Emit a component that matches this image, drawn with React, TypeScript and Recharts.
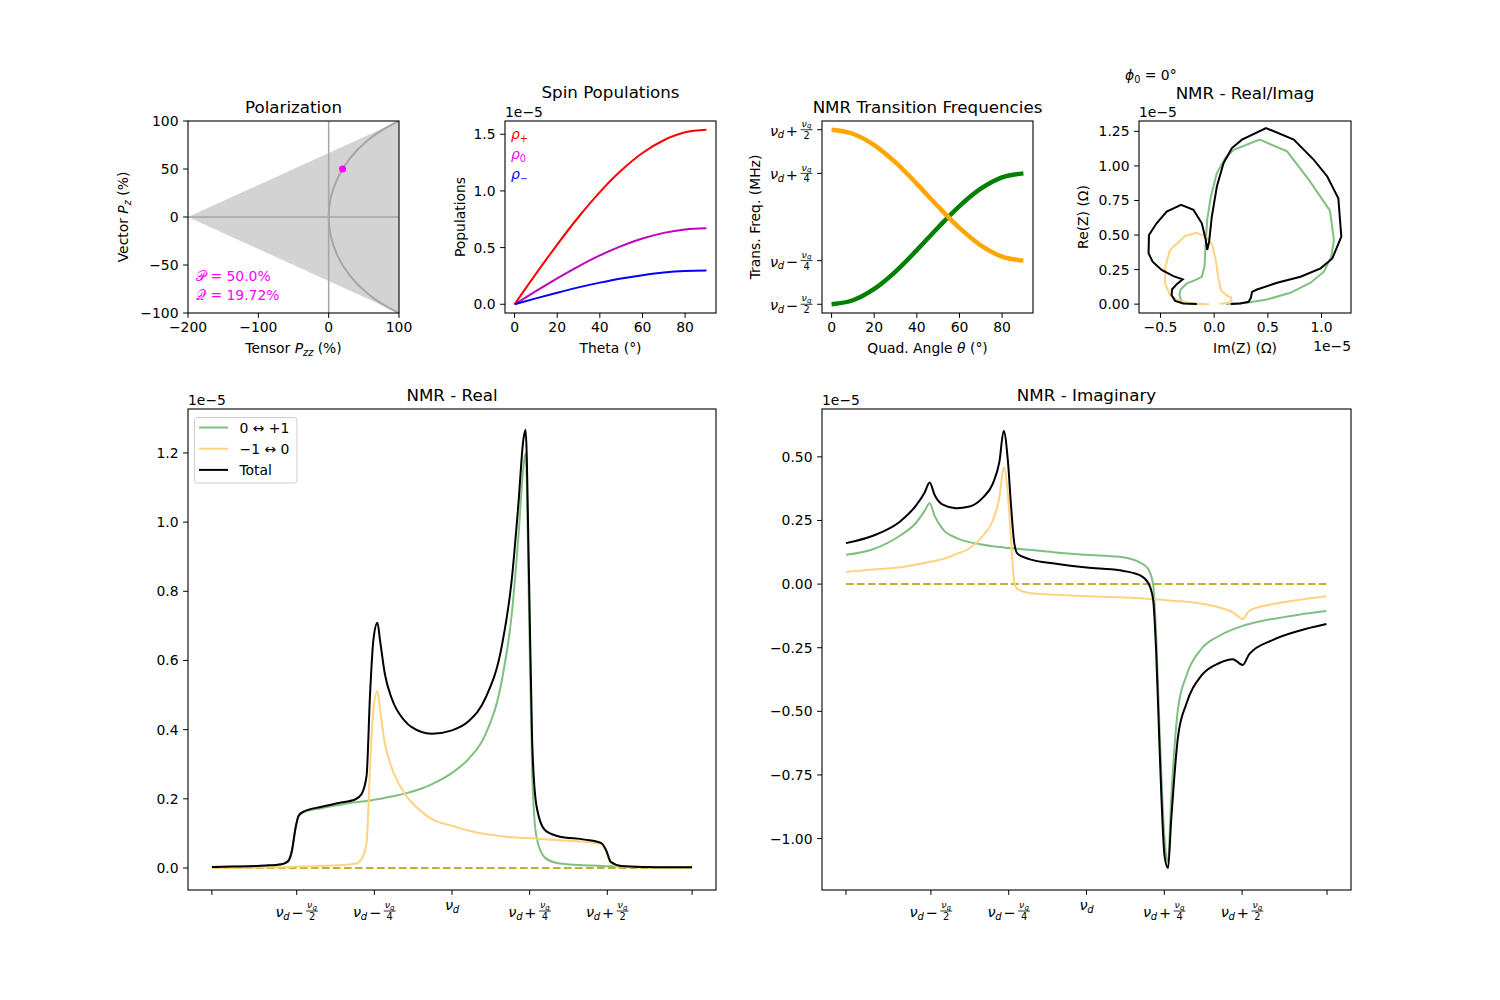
import React from "react";
import {
  ComposedChart,
  LineChart,
  Line,
  Area,
  XAxis,
  YAxis,
  ReferenceLine,
  ReferenceDot,
  Legend,
} from "recharts";

const FONT = "'DejaVu Sans', sans-serif";

// ---------- Polarization (percent)
const bandPzz = [-200, 100];
const bandLow = [0, -100];
const bandHigh = [0, 100];
const curvePz = [-100, -95, -90, -85, -80, -70, -60, -50, -40, -30, -20, -10, 0, 10, 20, 30, 40, 50, 60, 70, 80, 85, 90, 95, 100];
const curvePzz = [100, 86.3, 74.7, 64.6, 55.8, 40.9, 29.1, 19.7, 12.4, 6.9, 3.0, 0.75, 0, 0.75, 3.0, 6.9, 12.4, 19.7, 29.1, 40.9, 55.8, 64.6, 74.7, 86.3, 100];
const polPz = 50.0;
const polPzz = 19.72;

// ---------- Spin populations (x 1e-5)
const theta = [0, 10, 20, 30, 40, 50, 60, 70, 80, 90];
const rhoPlus = [0, 0.268, 0.527, 0.77, 0.99, 1.18, 1.335, 1.447, 1.517, 1.54];
const rhoZero = [0, 0.116, 0.229, 0.335, 0.431, 0.513, 0.58, 0.63, 0.66, 0.67];
const rhoMinus = [0, 0.052, 0.102, 0.149, 0.191, 0.228, 0.257, 0.28, 0.293, 0.297];

// ---------- Transition frequencies (offset from nu_d, units of nu_q)
const quadAngle = [0, 10, 20, 30, 40, 50, 60, 70, 80, 90];
const freqUpper = [-0.5, -0.477, -0.412, -0.3125, -0.19, -0.06, 0.0625, 0.162, 0.227, 0.25];
const freqLower = [0.5, 0.477, 0.412, 0.3125, 0.19, 0.06, -0.0625, -0.162, -0.227, -0.25];

// ---------- NMR real part (x 1e-5) vs frequency offset (units of nu_q)
const freqRe = [-0.773, -0.7, -0.6, -0.55, -0.536, -0.526, -0.515, -0.504, -0.494, -0.478, -0.42, -0.365, -0.312, -0.291, -0.275, -0.264, -0.253, -0.24, -0.232, -0.216, -0.194, -0.152, -0.098, -0.066, 0, 0.053, 0.107, 0.16, 0.192, 0.214, 0.23, 0.237, 0.248, 0.258, 0.272, 0.299, 0.342, 0.427, 0.481, 0.497, 0.511, 0.545, 0.62, 0.7, 0.773];
const greenRe = [0.003, 0.004, 0.006, 0.01, 0.014, 0.02, 0.05, 0.113, 0.149, 0.161, 0.173, 0.182, 0.19, 0.192, 0.194, 0.195, 0.197, 0.199, 0.2, 0.203, 0.207, 0.215, 0.23, 0.242, 0.275, 0.315, 0.385, 0.54, 0.73, 0.96, 1.16, 1.2, 0.75, 0.28, 0.09, 0.03, 0.014, 0.008, 0.006, 0.005, 0.005, 0.004, 0.003, 0.002, 0.002];
const orangeRe = [0.001, 0.001, 0.002, 0.002, 0.003, 0.003, 0.003, 0.004, 0.004, 0.004, 0.006, 0.008, 0.012, 0.026, 0.074, 0.29, 0.46, 0.512, 0.46, 0.36, 0.29, 0.215, 0.163, 0.142, 0.122, 0.108, 0.098, 0.092, 0.089, 0.088, 0.087, 0.087, 0.086, 0.086, 0.085, 0.083, 0.08, 0.076, 0.069, 0.045, 0.014, 0.004, 0.002, 0.001, 0.001];
const totalRe = [0.003, 0.004, 0.007, 0.011, 0.015, 0.022, 0.052, 0.115, 0.151, 0.163, 0.177, 0.188, 0.198, 0.214, 0.267, 0.5, 0.66, 0.709, 0.66, 0.56, 0.49, 0.425, 0.393, 0.388, 0.398, 0.424, 0.49, 0.64, 0.83, 1.055, 1.24, 1.267, 0.84, 0.37, 0.18, 0.11, 0.092, 0.082, 0.072, 0.05, 0.018, 0.006, 0.003, 0.002, 0.002];

// ---------- NMR imaginary part (x 1e-5)
const freqIm = [-0.773, -0.686, -0.6, -0.547, -0.52, -0.504, -0.488, -0.462, -0.419, -0.376, -0.333, -0.301, -0.28, -0.266, -0.253, -0.242, -0.232, -0.221, -0.184, -0.098, 0, 0.107, 0.171, 0.198, 0.214, 0.224, 0.235, 0.251, 0.262, 0.272, 0.294, 0.321, 0.369, 0.427, 0.47, 0.502, 0.523, 0.598, 0.684, 0.771];
const greenIm = [0.115, 0.137, 0.19, 0.242, 0.288, 0.318, 0.268, 0.216, 0.182, 0.165, 0.155, 0.149, 0.146, 0.144, 0.142, 0.141, 0.14, 0.139, 0.135, 0.124, 0.115, 0.107, 0.085, 0.06, 0.0, -0.2, -0.58, -1.0, -1.09, -0.85, -0.49, -0.36, -0.255, -0.203, -0.178, -0.164, -0.157, -0.137, -0.12, -0.106];
const orangeIm = [0.048, 0.057, 0.066, 0.077, 0.083, 0.087, 0.091, 0.098, 0.118, 0.14, 0.19, 0.25, 0.34, 0.458, 0.36, 0.164, 0.007, -0.02, -0.035, -0.042, -0.048, -0.052, -0.056, -0.058, -0.059, -0.06, -0.061, -0.063, -0.064, -0.065, -0.067, -0.069, -0.077, -0.092, -0.111, -0.137, -0.105, -0.079, -0.062, -0.048];
const totalIm = [0.161, 0.19, 0.245, 0.31, 0.36, 0.399, 0.35, 0.312, 0.298, 0.305, 0.34, 0.395, 0.48, 0.602, 0.49, 0.3, 0.16, 0.118, 0.098, 0.08, 0.065, 0.054, 0.035, 0.005, -0.06, -0.27, -0.65, -1.07, -1.116, -0.93, -0.6, -0.47, -0.36, -0.31, -0.295, -0.318, -0.275, -0.22, -0.183, -0.157];

// ---------- Real vs Imag (x 1e-5), traced in frequency order
const imGreen = [-0.115, -0.24, -0.308, -0.324, -0.312, -0.255, -0.178, -0.115, -0.09, -0.081, -0.065, -0.031, 0.025, 0.103, 0.181, 0.424, 0.679, 0.882, 1.078, 1.115, 1.09, 1.022, 0.897, 0.71, 0.492, 0.305, 0.109];
const reGreen = [0.002, 0.005, 0.024, 0.07, 0.106, 0.15, 0.174, 0.198, 0.271, 0.416, 0.609, 0.779, 0.948, 1.057, 1.117, 1.19, 1.105, 0.899, 0.677, 0.464, 0.343, 0.235, 0.155, 0.082, 0.034, 0.01, 0.002];
const imOrange = [-0.047, -0.131, -0.24, -0.333, -0.411, -0.458, -0.455, -0.411, -0.271, -0.162, -0.075, -0.019, 0.012, 0.037, 0.062, 0.112, 0.156, 0.162, 0.134, 0.05];
const reOrange = [0.0, 0.002, 0.007, 0.024, 0.065, 0.15, 0.271, 0.392, 0.493, 0.517, 0.488, 0.428, 0.331, 0.198, 0.102, 0.065, 0.048, 0.024, 0.01, 0.002];
const imTotal = [-0.162, -0.287, -0.364, -0.396, -0.393, -0.349, -0.293, -0.38, -0.489, -0.573, -0.611, -0.607, -0.536, -0.442, -0.308, -0.193, -0.115, -0.078, -0.065, -0.047, -0.022, 0.025, 0.087, 0.165, 0.259, 0.483, 0.741, 0.928, 1.053, 1.156, 1.184, 1.1, 0.991, 0.804, 0.586, 0.399, 0.352, 0.343, 0.321, 0.243, 0.156];
const reTotal = [0.002, 0.005, 0.024, 0.065, 0.106, 0.145, 0.179, 0.203, 0.247, 0.307, 0.368, 0.5, 0.585, 0.67, 0.718, 0.682, 0.585, 0.464, 0.392, 0.452, 0.633, 0.851, 1.02, 1.129, 1.19, 1.274, 1.19, 1.044, 0.924, 0.766, 0.488, 0.331, 0.259, 0.198, 0.155, 0.106, 0.089, 0.048, 0.017, 0.005, 0.002];

// ---------- tick labels
const nuTicks = [-0.773, -0.5, -0.25, 0, 0.25, 0.5, 0.773];
const nuTickKind = ["", "frac", "frac", "nu", "frac", "frac", ""];
const nuTickOp = ["", "\u2212", "\u2212", "", "+", "+", ""];
const nuTickDen = ["", "2", "4", "", "4", "2", ""];
const trTicks = [-0.5, -0.25, 0.25, 0.5];
const trTickOp = ["\u2212", "\u2212", "+", "+"];
const trTickDen = ["2", "4", "4", "2"];
const seriesNames = ["0 ↔ +1", "\u22121 ↔ 0", "Total"];

const GREEN_A = "#80bf80";
const ORANGE_A = "#ffd280";
const OLIVE = "#bfb035";

type Box = { x0: number; y0: number; x1: number; y1: number };
const BOX_POL: Box = { x0: 188, y0: 121, x1: 399, y1: 313 };
const BOX_POP: Box = { x0: 505, y0: 121, x1: 716, y1: 313 };
const BOX_TRN: Box = { x0: 822, y0: 121, x1: 1033, y1: 313 };
const BOX_RI: Box = { x0: 1139, y0: 121, x1: 1351, y1: 313 };
const BOX_RE: Box = { x0: 188, y0: 409, x1: 716, y1: 890 };
const BOX_IM: Box = { x0: 822, y0: 409, x1: 1351, y1: 890 };

const YW = 70;
const MT = 15;
const MR = 30;
const XH = 40;
const MARGIN = { top: MT, right: MR, bottom: 0, left: 0 };
const cw = (b: Box) => b.x1 - b.x0 + YW + MR;
const ch = (b: Box) => b.y1 - b.y0 + MT + XH;

const TICK = { fontSize: 13.9, fill: "#000", fontFamily: FONT };
const axisBase = {
  type: "number" as const,
  allowDataOverflow: true,
  axisLine: false,
  tickLine: { stroke: "#000", strokeWidth: 1 },
  tickSize: 4.9,
  tickMargin: 4.6,
  tick: TICK,
  interval: 0 as const,
};

const fmt = (d: number) => (v: number) => v.toFixed(d).replace("-", "\u2212");

function Slot({ box, children }: { box: Box; children: React.ReactNode }) {
  return (
    <div style={{ position: "absolute", left: box.x0 - YW, top: box.y0 - MT }}>{children}</div>
  );
}

// nu_d +/- nu_q/den drawn as mathtext-like svg
function NuFrac({ left, cy, op, den }: { left: number; cy: number; op: string; den: string }) {
  return (
    <g fontFamily={FONT} fill="#000">
      <text x={left} y={cy + 6} fontSize={14.5} fontStyle="italic">ν</text>
      <text x={left + 7.8} y={cy + 8.5} fontSize={10} fontStyle="italic">d</text>
      <text x={left + 22} y={cy + 6.5} fontSize={14.5} textAnchor="middle">{op}</text>
      <text x={left + 31.6} y={cy - 2.8} fontSize={9.5} fontStyle="italic">ν</text>
      <text x={left + 37} y={cy - 1.3} fontSize={7} fontStyle="italic">q</text>
      <line x1={left + 30.7} x2={left + 42.6} y1={cy} y2={cy} stroke="#000" strokeWidth={0.8} />
      <text x={left + 36.6} y={cy + 9} fontSize={9.8} textAnchor="middle">{den}</text>
    </g>
  );
}

function NuXTick(props: any) {
  const { x, y, payload } = props;
  const i = nuTicks.findIndex((v) => Math.abs(v - payload.value) < 1e-6);
  if (i < 0 || nuTickKind[i] === "") return <g />;
  if (nuTickKind[i] === "nu") {
    return (
      <g fontFamily={FONT} fill="#000">
        <text x={x - 7} y={y + 10.5} fontSize={14.5} fontStyle="italic">ν</text>
        <text x={x + 0.8} y={y + 13} fontSize={10} fontStyle="italic">d</text>
      </g>
    );
  }
  return <NuFrac left={x - 21.3} cy={y + 11.5} op={nuTickOp[i]} den={nuTickDen[i]} />;
}

function TrYTick(props: any) {
  const { x, y, payload } = props;
  const i = trTicks.findIndex((v) => Math.abs(v - payload.value) < 1e-6);
  if (i < 0) return <g />;
  return <NuFrac left={x - 42.6} cy={y} op={trTickOp[i]} den={trTickDen[i]} />;
}

function LegendBox(props: any) {
  const items = (props.payload || [])
    .filter((p: any) => p.type !== "none" && seriesNames.includes(p.value))
    .sort((a: any, b: any) => seriesNames.indexOf(a.value) - seriesNames.indexOf(b.value));
  return (
    <svg width={104} height={67} style={{ display: "block" }}>
      <rect x={0.5} y={0.5} width={102.5} height={65.5} rx={3} fill="rgba(255,255,255,0.8)" stroke="#cccccc" />
      {items.map((it: any, i: number) => {
        const cy = 10.5 + i * 21.2;
        return (
          <g key={i}>
            <line x1={5} x2={34} y1={cy} y2={cy} stroke={it.color} strokeWidth={2} />
            <text x={45.5} y={cy + 5} fontSize={13.9} fontFamily={FONT} fill="#000">
              {it.value}
            </text>
          </g>
        );
      })}
    </svg>
  );
}

export default function App() {
  const bandRows = bandPzz.map((x, i) => ({ x, band: [bandLow[i], bandHigh[i]] }));
  const curveRows = curvePz.map((y, i) => ({ x: curvePzz[i], y }));
  const popRows = theta.map((t, i) => ({ x: t, p: rhoPlus[i], z: rhoZero[i], m: rhoMinus[i] }));
  const trRows = quadAngle.map((t, i) => ({ x: t, up: freqUpper[i], lo: freqLower[i] }));
  const riGreen = imGreen.map((im, i) => ({ im, re: reGreen[i] }));
  const riOrange = imOrange.map((im, i) => ({ im, re: reOrange[i] }));
  const riTotal = imTotal.map((im, i) => ({ im, re: reTotal[i] }));
  const reRows = freqRe.map((f, i) => ({ f, g: greenRe[i], o: orangeRe[i], t: totalRe[i] }));
  const imRows = freqIm.map((f, i) => ({ f, g: greenIm[i], o: orangeIm[i], t: totalIm[i] }));
  const zeroRe = [freqRe[0], freqRe[freqRe.length - 1]].map((f) => ({ f, v: 0 }));
  const zeroIm = [freqIm[0], freqIm[freqIm.length - 1]].map((f) => ({ f, v: 0 }));

  const boxes = [BOX_POL, BOX_POP, BOX_TRN, BOX_RI, BOX_RE, BOX_IM];

  return (
    <div style={{ position: "relative", width: 1500, height: 1000, background: "#fff", fontFamily: FONT }}>
      <style>{`body{margin:0}`}</style>

      {/* Polarization */}
      <Slot box={BOX_POL}>
        <ComposedChart width={cw(BOX_POL)} height={ch(BOX_POL)} margin={MARGIN}>
          <XAxis {...axisBase} dataKey="x" height={XH} domain={[-200, 100]} ticks={[-200, -100, 0, 100]} tickFormatter={fmt(0)} />
          <YAxis {...axisBase} width={YW} domain={[-100, 100]} ticks={[-100, -50, 0, 50, 100]} tickFormatter={fmt(0)} />
          <Area data={bandRows} dataKey="band" type="linear" fill="#d3d3d3" fillOpacity={1} stroke="none" isAnimationActive={false} />
          <ReferenceLine x={0} stroke="#a6a6a6" strokeWidth={1.5} />
          <ReferenceLine y={0} stroke="#a6a6a6" strokeWidth={1.5} />
          <Line data={curveRows} dataKey="y" type="linear" stroke="#a6a6a6" strokeWidth={2} dot={false} isAnimationActive={false} />
          <ReferenceDot x={polPzz} y={polPz} r={3.5} fill="#ff00ff" stroke="none" />
        </ComposedChart>
      </Slot>

      {/* Spin populations */}
      <Slot box={BOX_POP}>
        <LineChart width={cw(BOX_POP)} height={ch(BOX_POP)} margin={MARGIN} data={popRows}>
          <XAxis {...axisBase} dataKey="x" height={XH} domain={[-4.5, 94.5]} ticks={[0, 20, 40, 60, 80]} tickFormatter={fmt(0)} />
          <YAxis {...axisBase} width={YW} domain={[-0.077, 1.617]} ticks={[0, 0.5, 1, 1.5]} tickFormatter={fmt(1)} />
          <Line dataKey="p" type="monotone" stroke="#ff0000" strokeWidth={2} dot={false} isAnimationActive={false} />
          <Line dataKey="z" type="monotone" stroke="#bf00bf" strokeWidth={2} dot={false} isAnimationActive={false} />
          <Line dataKey="m" type="monotone" stroke="#0000ff" strokeWidth={2} dot={false} isAnimationActive={false} />
        </LineChart>
      </Slot>

      {/* Transition frequencies */}
      <Slot box={BOX_TRN}>
        <LineChart width={cw(BOX_TRN)} height={ch(BOX_TRN)} margin={MARGIN} data={trRows}>
          <XAxis {...axisBase} dataKey="x" height={XH} domain={[-4.5, 94.5]} ticks={[0, 20, 40, 60, 80]} tickFormatter={fmt(0)} />
          <YAxis {...axisBase} width={YW} domain={[-0.55, 0.55]} ticks={trTicks} tick={(p: any) => <TrYTick {...p} />} />
          <Line dataKey="up" type="monotone" stroke="#008000" strokeWidth={4.5} dot={false} isAnimationActive={false} />
          <Line dataKey="lo" type="monotone" stroke="#ffa500" strokeWidth={4.5} dot={false} isAnimationActive={false} />
        </LineChart>
      </Slot>

      {/* Real vs Imag */}
      <Slot box={BOX_RI}>
        <LineChart width={cw(BOX_RI)} height={ch(BOX_RI)} margin={MARGIN}>
          <XAxis {...axisBase} dataKey="im" height={XH} domain={[-0.7, 1.274]} ticks={[-0.5, 0, 0.5, 1]} tickFormatter={fmt(1)} />
          <YAxis {...axisBase} width={YW} domain={[-0.064, 1.325]} ticks={[0, 0.25, 0.5, 0.75, 1, 1.25]} tickFormatter={fmt(2)} />
          <Line data={riGreen} dataKey="re" type="linear" stroke={GREEN_A} strokeWidth={2} dot={false} isAnimationActive={false} />
          <Line data={riOrange} dataKey="re" type="linear" stroke={ORANGE_A} strokeWidth={2} dot={false} isAnimationActive={false} />
          <Line data={riTotal} dataKey="re" type="linear" stroke="#000" strokeWidth={2} dot={false} isAnimationActive={false} />
        </LineChart>
      </Slot>

      {/* NMR real */}
      <Slot box={BOX_RE}>
        <LineChart width={cw(BOX_RE)} height={ch(BOX_RE)} margin={MARGIN}>
          <XAxis {...axisBase} dataKey="f" height={XH} domain={[-0.85, 0.85]} ticks={nuTicks} tick={(p: any) => <NuXTick {...p} />} />
          <YAxis {...axisBase} width={YW} domain={[-0.0636, 1.327]} ticks={[0, 0.2, 0.4, 0.6, 0.8, 1.0, 1.2]} tickFormatter={fmt(1)} />
          <Line data={zeroRe} dataKey="v" type="linear" stroke={OLIVE} strokeWidth={2} strokeDasharray="7.7 3.3" dot={false} legendType="none" isAnimationActive={false} />
          <Line data={reRows} dataKey="g" name={seriesNames[0]} type="monotone" stroke={GREEN_A} strokeWidth={2} dot={false} isAnimationActive={false} />
          <Line data={reRows} dataKey="o" name={seriesNames[1]} type="monotone" stroke={ORANGE_A} strokeWidth={2} dot={false} isAnimationActive={false} />
          <Line data={reRows} dataKey="t" name={seriesNames[2]} type="monotone" stroke="#000" strokeWidth={2} dot={false} isAnimationActive={false} />
          <Legend
            layout="horizontal"
            verticalAlign="middle"
            align="center"
            wrapperStyle={{ left: 76, top: 416.5 - (BOX_RE.y0 - MT), width: 104, height: 67 }}
            content={(p: any) => <LegendBox {...p} />}
          />
        </LineChart>
      </Slot>

      {/* NMR imaginary */}
      <Slot box={BOX_IM}>
        <LineChart width={cw(BOX_IM)} height={ch(BOX_IM)} margin={MARGIN}>
          <XAxis {...axisBase} dataKey="f" height={XH} domain={[-0.85, 0.85]} ticks={nuTicks} tick={(p: any) => <NuXTick {...p} />} />
          <YAxis {...axisBase} width={YW} domain={[-1.202, 0.688]} ticks={[-1, -0.75, -0.5, -0.25, 0, 0.25, 0.5]} tickFormatter={fmt(2)} />
          <Line data={zeroIm} dataKey="v" type="linear" stroke={OLIVE} strokeWidth={2} strokeDasharray="7.7 3.3" dot={false} isAnimationActive={false} />
          <Line data={imRows} dataKey="g" type="monotone" stroke={GREEN_A} strokeWidth={2} dot={false} isAnimationActive={false} />
          <Line data={imRows} dataKey="o" type="monotone" stroke={ORANGE_A} strokeWidth={2} dot={false} isAnimationActive={false} />
          <Line data={imRows} dataKey="t" type="monotone" stroke="#000" strokeWidth={2} dot={false} isAnimationActive={false} />
        </LineChart>
      </Slot>

      {/* frames, titles, labels */}
      <svg
        width={1500}
        height={1000}
        style={{ position: "absolute", left: 0, top: 0, pointerEvents: "none" }}
        fontFamily={FONT}
        fill="#000"
      >
        {boxes.map((b, i) => (
          <rect key={i} x={b.x0} y={b.y0} width={b.x1 - b.x0} height={b.y1 - b.y0} fill="none" stroke="#000" strokeWidth={1.1} />
        ))}

        <g fontSize={16.7} textAnchor="middle">
          <text x={293.5} y={113}>Polarization</text>
          <text x={610.5} y={97.5}>Spin Populations</text>
          <text x={927.5} y={113}>NMR Transition Frequencies</text>
          <text x={1245} y={99}>NMR - Real/Imag</text>
          <text x={452} y={401}>NMR - Real</text>
          <text x={1086.5} y={401}>NMR - Imaginary</text>
        </g>

        <g fontSize={13.9} textAnchor="middle">
          <text x={293.5} y={353}>
            Tensor <tspan fontStyle="italic">P</tspan>
            <tspan fontStyle="italic" fontSize={9.7} dy={3}>zz</tspan>
            <tspan dy={-3}> (%)</tspan>
          </text>
          <text x={610.5} y={353}>Theta (°)</text>
          <text x={927.5} y={353}>
            Quad. Angle <tspan fontStyle="italic">θ</tspan> (°)
          </text>
          <text x={1245} y={353}>Im(Z) (Ω)</text>
          <text transform="translate(128,217) rotate(-90)">
            Vector <tspan fontStyle="italic">P</tspan>
            <tspan fontStyle="italic" fontSize={9.7} dy={3}>z</tspan>
            <tspan dy={-3}> (%)</tspan>
          </text>
          <text transform="translate(465,217) rotate(-90)">Populations</text>
          <text transform="translate(759.5,217) rotate(-90)">Trans. Freq. (MHz)</text>
          <text transform="translate(1088,217) rotate(-90)">Re(Z) (Ω)</text>
        </g>

        <g fontSize={13.9}>
          <text x={505} y={117}>1e−5</text>
          <text x={1139} y={117}>1e−5</text>
          <text x={1351} y={351} textAnchor="end">1e−5</text>
          <text x={188} y={405}>1e−5</text>
          <text x={822} y={405}>1e−5</text>
        </g>

        <g fontSize={13.9} fill="#ff00ff">
          <text x={196} y={281}>{`𝒫 = ${polPz.toFixed(1)}%`}</text>
          <text x={196} y={300}>{`𝒬 = ${polPzz.toFixed(2)}%`}</text>
        </g>

        <g fontSize={13.9}>
          <text x={511} y={138.5} fill="#ff0000">
            <tspan fontStyle="italic">ρ</tspan>
            <tspan fontSize={9.7} dy={3}>+</tspan>
          </text>
          <text x={511} y={158.5} fill="#ff00ff">
            <tspan fontStyle="italic">ρ</tspan>
            <tspan fontSize={9.7} dy={3}>0</tspan>
          </text>
          <text x={511} y={178.5} fill="#0000ff">
            <tspan fontStyle="italic">ρ</tspan>
            <tspan fontSize={9.7} dy={3}>−</tspan>
          </text>
          <text x={1125} y={80}>
            <tspan fontStyle="italic">ϕ</tspan>
            <tspan fontSize={9.7} dy={3}>0</tspan>
            <tspan dy={-3}> =  0°</tspan>
          </text>
        </g>
      </svg>
    </div>
  );
}
